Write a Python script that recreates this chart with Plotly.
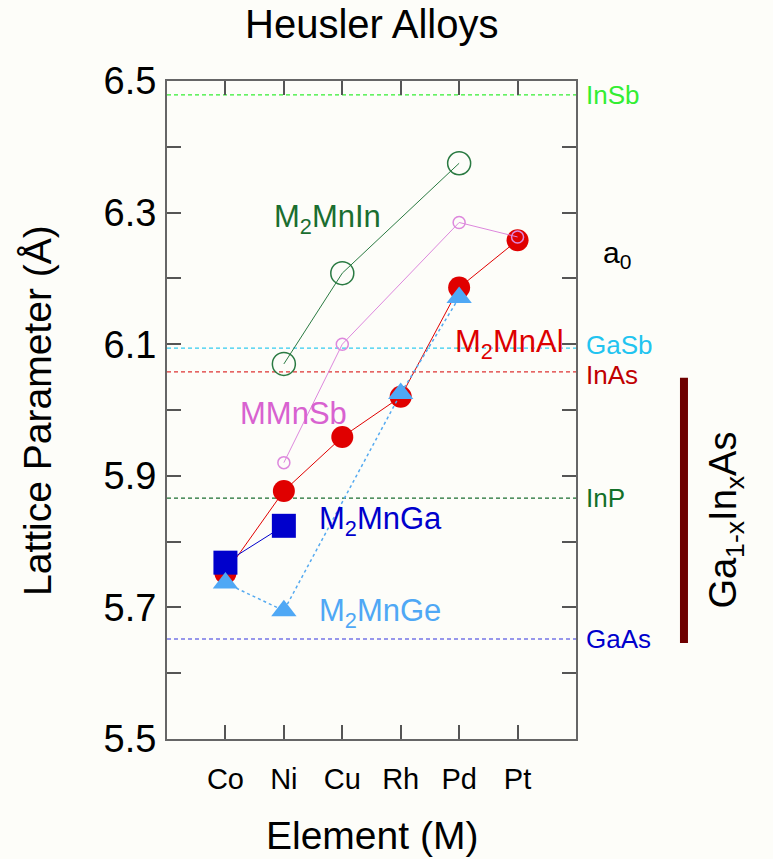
import plotly.graph_objects as go

# ---------------- data ----------------
elements = ["Co", "Ni", "Cu", "Rh", "Pd", "Pt"]
elem_pos = {e: i + 1 for i, e in enumerate(elements)}

m2mnin_el = ["Ni", "Cu", "Pd"]
m2mnin_a = [6.070, 6.208, 6.375]

mmnsb_el = ["Ni", "Cu", "Pd", "Pt"]
mmnsb_a = [5.920, 6.100, 6.285, 6.263]

m2mnal_el = ["Co", "Ni", "Cu", "Rh", "Pd", "Pt"]
m2mnal_a = [5.752, 5.877, 5.959, 6.020, 6.186, 6.258]

m2mnga_el = ["Co", "Ni"]
m2mnga_a = [5.768, 5.824]

m2mnge_el = ["Co", "Ni", "Rh", "Pd"]
m2mnge_a = [5.737, 5.695, 6.025, 6.171]

substrates = ["InSb", "GaSb", "InAs", "InP", "GaAs"]
substrate_a = [6.479, 6.094, 6.058, 5.866, 5.652]

gainas_range = [5.646, 6.049]

y_ticks = [5.5, 5.7, 5.9, 6.1, 6.3, 6.5]

FONT = "Liberation Sans, Arial, sans-serif"
BG = "#fdfdf9"

fig = go.Figure()


def xs(els):
    return [elem_pos[e] for e in els]


# substrate reference lines
sub_line_colors = ["#33ee33", "#33ccf0", "#dd3333", "#1a6e30", "#3333dd"]
sub_text_colors = ["#33ee33", "#22c4f0", "#c00000", "#137028", "#0000cc"]
sub_text_shift = [0, 3, -3, 0, 0]
for name, a, lc, tc, sh in zip(substrates, substrate_a, sub_line_colors,
                               sub_text_colors, sub_text_shift):
    fig.add_shape(type="line", xref="paper", yref="y", x0=0, x1=1, y0=a, y1=a,
                  line=dict(color=lc, width=1.2, dash="4px,3px"), layer="below")
    fig.add_annotation(xref="paper", yref="y", x=1.02, y=a, text=name,
                       showarrow=False, xanchor="left", yanchor="middle", yshift=sh,
                       font=dict(family=FONT, size=26, color=tc))

# series
fig.add_trace(go.Scatter(x=xs(m2mnal_el), y=m2mnal_a, mode="lines+markers",
                         line=dict(color="#e00000", width=1),
                         marker=dict(symbol="circle", size=22, color="#e00000"),
                         name="M2MnAl", showlegend=False))
fig.add_trace(go.Scatter(x=xs(m2mnga_el), y=m2mnga_a, mode="lines+markers",
                         line=dict(color="#0000cc", width=1),
                         marker=dict(symbol="square", size=24, color="#0000cc"),
                         name="M2MnGa", showlegend=False))
fig.add_trace(go.Scatter(x=xs(m2mnge_el), y=m2mnge_a, mode="lines+markers",
                         line=dict(color="#55aaf0", width=1.5, dash="dot"),
                         marker=dict(symbol="triangle-up", size=22, color="#4fa8f5"),
                         name="M2MnGe", showlegend=False))
fig.add_trace(go.Scatter(x=xs(mmnsb_el), y=mmnsb_a, mode="lines+markers",
                         line=dict(color="#dd88dd", width=1),
                         marker=dict(symbol="circle-open", size=12, color="#dd88dd",
                                     line=dict(width=1.5)),
                         name="MMnSb", showlegend=False))
fig.add_trace(go.Scatter(x=xs(m2mnin_el), y=m2mnin_a, mode="lines+markers",
                         line=dict(color="#2a7a42", width=1),
                         marker=dict(symbol="circle-open", size=23, color="#2a7a42",
                                     line=dict(width=1.5)),
                         name="M2MnIn", showlegend=False))

# series labels
labels = [
    ("M<sub>2</sub>MnIn", 1.79, 6.290, "#1a6e30"),
    ("MMnSb", 1.21, 5.995, "#d862d0"),
    ("M<sub>2</sub>MnAl", 4.89, 6.100, "#dd0000"),
    ("M<sub>2</sub>MnGa", 2.56, 5.832, "#0000cc"),
    ("M<sub>2</sub>MnGe", 2.56, 5.692, "#4fa8f5"),
]
for txt, x, y, c in labels:
    fig.add_annotation(x=x, y=y, text=txt, showarrow=False, xanchor="left",
                       yanchor="middle", font=dict(family=FONT, size=31, color=c))

# a0 label
fig.add_annotation(xref="paper", yref="y", x=1.06, y=6.236, text="a<sub>0</sub>",
                   showarrow=False, xanchor="left", yanchor="middle",
                   font=dict(family=FONT, size=30, color="black"))

# GaInAs bar
fig.add_shape(type="line", xref="paper", yref="y", x0=1.264, x1=1.264,
              y0=gainas_range[0], y1=gainas_range[1],
              line=dict(color="#6e0000", width=8))
fig.add_annotation(xref="paper", yref="paper", x=1.366, y=0.333,
                   text="Ga<sub>1-x</sub>In<sub>x</sub>As", textangle=-90,
                   showarrow=False, xanchor="center", yanchor="middle",
                   font=dict(family=FONT, size=38, color="black"))

# titles
fig.add_annotation(xref="paper", yref="paper", x=0.5, y=1.087, text="Heusler Alloys",
                   showarrow=False, xanchor="center", yanchor="middle",
                   font=dict(family=FONT, size=40, color="black"))
fig.add_annotation(xref="paper", yref="paper", x=0.5, y=-0.146, text="Element (M)",
                   showarrow=False, xanchor="center", yanchor="middle",
                   font=dict(family=FONT, size=39, color="black"))
fig.add_annotation(xref="paper", yref="paper", x=-0.318, y=0.5,
                   text="Lattice Parameter (Å)", textangle=-90,
                   showarrow=False, xanchor="center", yanchor="middle",
                   font=dict(family=FONT, size=39, color="black"))

axis_common = dict(showline=True, linecolor="#666666", linewidth=2, mirror="ticks",
                   ticks="inside", ticklen=14, tickwidth=2, tickcolor="#555555",
                   showgrid=False, zeroline=False)

fig.update_xaxes(range=[0, 7], tickvals=list(range(1, 7)), ticktext=elements,
                 tickfont=dict(family=FONT, size=29, color="black"),
                 ticklabelstandoff=13, **axis_common)
fig.update_yaxes(range=[5.5, 6.5], tickvals=y_ticks, tickformat=".1f",
                 tickfont=dict(family=FONT, size=38, color="black"),
                 ticklabelstandoff=1,
                 minor=dict(dtick=0.1, tick0=5.5, ticks="inside", ticklen=14,
                            tickwidth=2, tickcolor="#555555", showgrid=False),
                 **axis_common)

fig.update_layout(width=773, height=859,
                  margin=dict(l=167, r=197, t=81, b=120),
                  paper_bgcolor=BG, plot_bgcolor=BG,
                  showlegend=False)

fig.write_html("out.html")
